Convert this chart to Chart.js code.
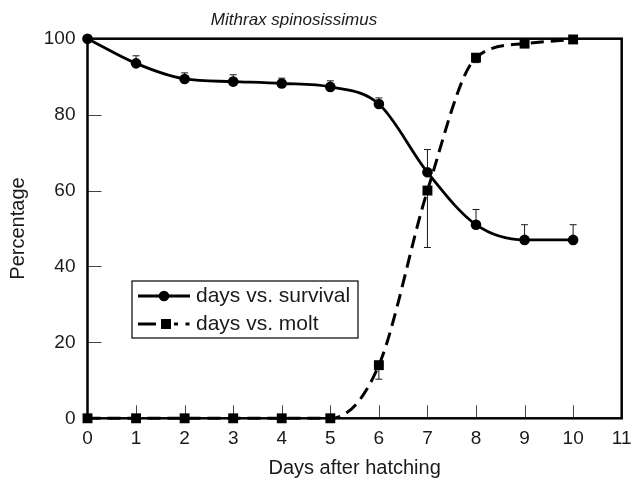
<!DOCTYPE html>
<html>
<head>
<meta charset="utf-8">
<script src="https://cdn.jsdelivr.net/npm/chart.js@4.4.1/dist/chart.umd.min.js"></script>
<style>
  body { margin: 0; background: #fff; }
  #wrap { width: 631px; height: 481px; }
</style>
</head>
<body>
<div id="wrap"><canvas id="chart" width="631" height="481"></canvas></div>
<script>
// data
const days = [0, 1, 2, 3, 4, 5, 6, 7, 8, 9, 10];
const survival = [100, 93.5, 89.4, 88.7, 88.2, 87.3, 82.8, 64.8, 51, 47, 47];
const survivalErr = [0, 2, 1.6, 1.8, 1.4, 1.6, 1.6, 6, 4, 4, 4];   // drawn upward
const molt = [0, 0, 0, 0, 0, 0, 14, 60, 95, 98.7, 99.8];
const moltErr = [0, 0, 0, 0, 0, 0, 3.7, 15, 1.3, 0, 0];           // drawn downward
const xTicks = [0, 1, 2, 3, 4, 5, 6, 7, 8, 9, 10, 11];
const yTicks = [0, 20, 40, 60, 80, 100];

const FONT = '"Liberation Sans", Arial, Helvetica, sans-serif';
const INK = '#1a1a1a';

function pts(ys) {
    return days.map(function(d, i) { return {x: d, y: ys[i]}; });
}

const decor = {
    id: 'decor',
    beforeDatasetsDraw(chart) {
        const ctx = chart.ctx;
        const xs = chart.scales.x, ys = chart.scales.y;
        ctx.save();
        ctx.strokeStyle = INK;
        ctx.lineWidth = 1;
        // error bars
        function bar(d, v, e, dir) {
            if (!e) return;
            const px = xs.getPixelForValue(d);
            const p0 = ys.getPixelForValue(v);
            const p1 = ys.getPixelForValue(v + dir * e);
            ctx.beginPath();
            ctx.moveTo(px, p0); ctx.lineTo(px, p1);
            ctx.moveTo(px - 3.5, p1); ctx.lineTo(px + 3.5, p1);
            ctx.stroke();
        }
        days.forEach(function(d, i) {
            bar(d, survival[i], survivalErr[i], 1);
            bar(d, molt[i], moltErr[i], -1);
        });
        // inward ticks
        const a = chart.chartArea;
        ctx.strokeStyle = '#444';
        xTicks.forEach(function(t) {
            if (t === 0 || t === 11) return;
            const px = Math.round(xs.getPixelForValue(t)) + 0.5;
            ctx.beginPath(); ctx.moveTo(px, a.bottom); ctx.lineTo(px, a.bottom - 13); ctx.stroke();
        });
        yTicks.forEach(function(t) {
            if (t === 0 || t === 100) return;
            const py = Math.round(ys.getPixelForValue(t)) + 0.5;
            ctx.beginPath(); ctx.moveTo(a.left, py); ctx.lineTo(a.left + 14, py); ctx.stroke();
        });
        // frame
        ctx.strokeStyle = '#000';
        ctx.lineWidth = 2.5;
        ctx.strokeRect(a.left, a.top, a.right - a.left, a.bottom - a.top);
        ctx.restore();
    },
    afterDraw(chart) {
        const ctx = chart.ctx;
        ctx.save();
        // title
        ctx.fillStyle = INK;
        ctx.font = 'italic 17px ' + FONT;
        ctx.textAlign = 'center';
        ctx.textBaseline = 'alphabetic';
        ctx.fillText('Mithrax spinosissimus', 294, 25);

        // legend box
        ctx.fillStyle = '#fff';
        ctx.fillRect(132, 281, 226, 57);
        ctx.strokeStyle = '#000';
        ctx.lineWidth = 1.2;
        ctx.strokeRect(132, 281, 226, 57);

        ctx.strokeStyle = '#000';
        ctx.fillStyle = '#000';
        ctx.lineWidth = 3;
        // survival sample
        ctx.beginPath(); ctx.moveTo(138, 296); ctx.lineTo(190, 296); ctx.stroke();
        ctx.beginPath(); ctx.arc(164, 296, 5.3, 0, Math.PI * 2); ctx.fill();
        // molt sample
        ctx.beginPath(); ctx.moveTo(138, 324); ctx.lineTo(156, 324); ctx.stroke();
        ctx.fillRect(161, 319, 10, 10);
        ctx.beginPath(); ctx.moveTo(174, 324); ctx.lineTo(178, 324); ctx.stroke();
        ctx.beginPath(); ctx.moveTo(185.5, 324); ctx.lineTo(189.5, 324); ctx.stroke();

        ctx.fillStyle = INK;
        ctx.font = '21px ' + FONT;
        ctx.textAlign = 'left';
        ctx.textBaseline = 'middle';
        ctx.fillText('days vs. survival', 196, 296);
        ctx.fillText('days vs. molt', 196, 324);
        ctx.restore();
    }
};

new Chart(document.getElementById('chart'), {
    type: 'line',
    data: {
        datasets: [{
            label: 'days vs. survival',
            data: pts(survival),
            borderColor: '#000',
            backgroundColor: '#000',
            borderWidth: 2.8,
            cubicInterpolationMode: 'monotone',
            pointStyle: 'circle',
            pointRadius: 5.3,
            pointBorderWidth: 0,
            pointHoverRadius: 5.3,
            clip: false
        }, {
            label: 'days vs. molt',
            data: pts(molt),
            borderColor: '#000',
            backgroundColor: '#000',
            borderWidth: 3,
            borderDash: [13, 7],
            cubicInterpolationMode: 'monotone',
            pointStyle: 'rect',
            pointRadius: 7,
            pointBorderWidth: 0,
            pointHoverRadius: 7,
            clip: false
        }]
    },
    options: {
        responsive: false,
        animation: false,
        events: [],
        layout: { padding: { left: 0, right: 9.3, top: 38.7, bottom: 0 } },
        plugins: {
            legend: { display: false },
            tooltip: { enabled: false },
            title: { display: false }
        },
        scales: {
            x: {
                type: 'linear',
                min: 0,
                max: 11,
                afterBuildTicks: function(s) { s.ticks = xTicks.map(function(v) { return {value: v}; }); },
                afterFit: function(s) { s.height = 62.7; s.paddingLeft = 0; s.paddingRight = 0; },
                grid: { display: false, drawTicks: false },
                border: { display: false },
                ticks: { color: INK, font: { family: FONT, size: 19 }, padding: 9, maxRotation: 0, autoSkip: false },
                title: { display: true, text: 'Days after hatching', color: INK, font: { family: FONT, size: 20 }, padding: { top: 0, bottom: 1 } }
            },
            y: {
                type: 'linear',
                min: 0,
                max: 100,
                afterBuildTicks: function(s) { s.ticks = yTicks.map(function(v) { return {value: v}; }); },
                afterFit: function(s) { s.width = 87.5; s.paddingTop = 0; s.paddingBottom = 0; },
                grid: { display: false, drawTicks: false },
                border: { display: false },
                ticks: { color: INK, font: { family: FONT, size: 19 }, padding: 12 },
                title: { display: true, text: 'Percentage', color: INK, font: { family: FONT, size: 20 }, padding: { top: 6, bottom: 0 } }
            }
        }
    },
    plugins: [decor]
});
</script>
</body>
</html>
